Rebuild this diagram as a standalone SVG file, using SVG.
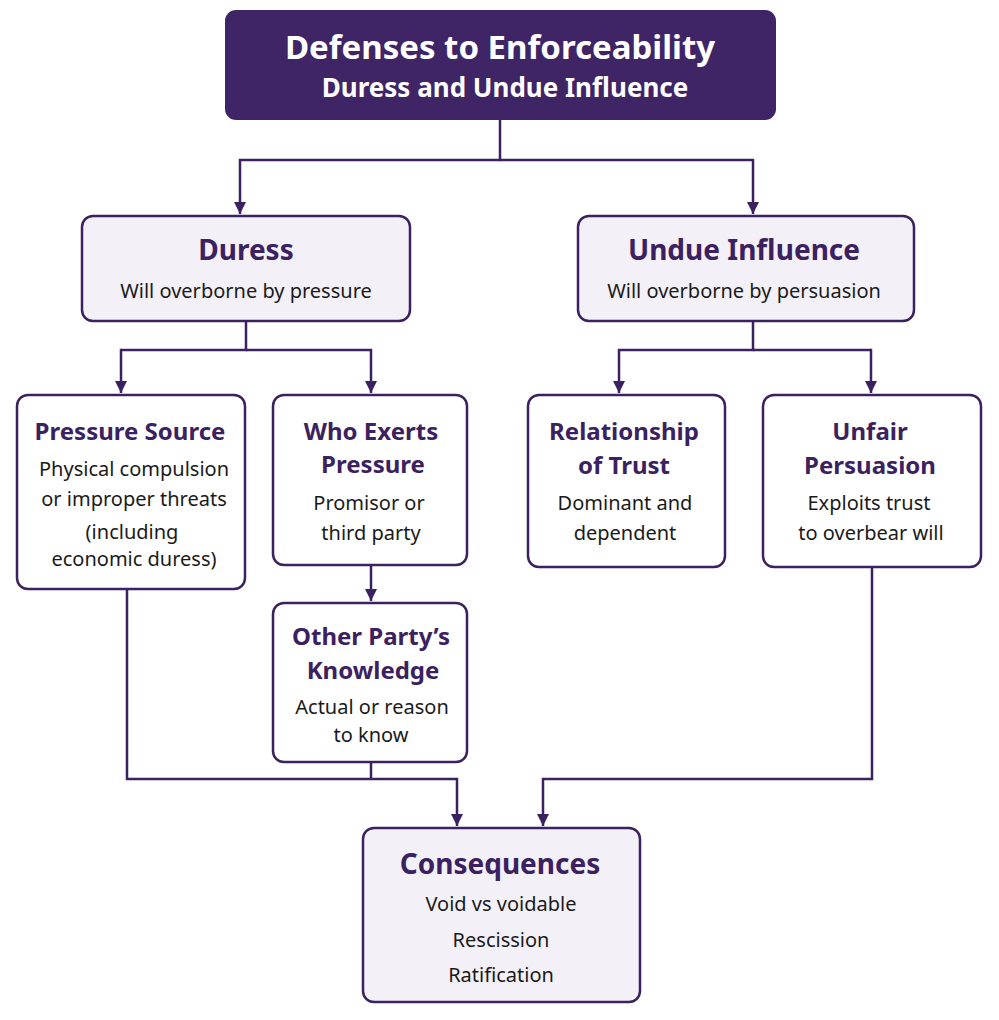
<svg xmlns="http://www.w3.org/2000/svg" width="999" height="1020" viewBox="0 0 999 1020">
<defs>
<marker id="ah" viewBox="0 0 10 10" refX="10" refY="5" markerWidth="5" markerHeight="5" markerUnits="strokeWidth" orient="auto"><path d="M0,0 L10,5 L0,10 z" fill="#3b2160"/></marker>
<style>
.box{stroke:#3b2160;stroke-width:2.5;fill:#fff}
.l2{fill:#f3f0f8}
.c{fill:none;stroke:#3b2160;stroke-width:2.5}
text{font-family:"Noto Sans","Open Sans",sans-serif;text-anchor:middle}
.h{font-weight:bold;fill:#3b2160;font-size:24px}
.hb{font-weight:bold;fill:#3b2160;font-size:28px}
.t{fill:#1a1a1a;font-size:20px}
</style>
</defs>
<rect width="999" height="1020" fill="#fff"/>
<g id="connectors">
<path class="c" d="M500,120 V160 H240 V214" marker-end="url(#ah)"/>
<path class="c" d="M500,160 H753 V214" marker-end="url(#ah)"/>
<path class="c" d="M246,321 V350 H121 V393" marker-end="url(#ah)"/>
<path class="c" d="M246,350 H371 V393" marker-end="url(#ah)"/>
<path class="c" d="M753,321 V350 H619 V393" marker-end="url(#ah)"/>
<path class="c" d="M753,350 H871 V393" marker-end="url(#ah)"/>
<path class="c" d="M371,565 V601" marker-end="url(#ah)"/>
<path class="c" d="M127,589 V779 H457 V826" marker-end="url(#ah)"/>
<path class="c" d="M371,762 V779"/>
<path class="c" d="M872,567 V779 H543 V826" marker-end="url(#ah)"/>
</g>
<g id="title">
<rect x="225" y="10" width="551" height="110" rx="11" fill="#3f2466"/>
<text x="500" y="59" font-size="33" font-weight="bold" fill="#fff">Defenses to Enforceability</text>
<text x="505" y="97" font-size="26" font-weight="bold" fill="#fff">Duress and Undue Influence</text>
</g>
<g id="duress">
<rect class="box l2" x="82" y="216" width="328" height="105" rx="11"/>
<text class="hb" x="246" y="260">Duress</text>
<text class="t" x="246" y="298">Will overborne by pressure</text>
</g>
<g id="undue">
<rect class="box l2" x="578" y="216" width="336" height="105" rx="11"/>
<text class="hb" x="744" y="260">Undue Influence</text>
<text class="t" x="744" y="298">Will overborne by persuasion</text>
</g>
<g id="pressure-source">
<rect class="box" x="17" y="395" width="228" height="194" rx="11"/>
<text class="h" x="130" y="440">Pressure Source</text>
<text class="t" x="134" y="476">Physical compulsion</text>
<text class="t" x="134" y="506">or improper threats</text>
<text class="t" x="132" y="539">(including</text>
<text class="t" x="134" y="566">economic duress)</text>
</g>
<g id="who-exerts">
<rect class="box" x="273" y="395" width="194" height="170" rx="11"/>
<text class="h" x="371" y="440">Who Exerts</text>
<text class="h" x="373" y="473">Pressure</text>
<text class="t" x="369" y="510">Promisor or</text>
<text class="t" x="371" y="540">third party</text>
</g>
<g id="other-party">
<rect class="box" x="273" y="603" width="194" height="159" rx="11"/>
<text class="h" x="371" y="645">Other Party’s</text>
<text class="h" x="373" y="679">Knowledge</text>
<text class="t" x="372" y="714">Actual or reason</text>
<text class="t" x="371" y="742">to know</text>
</g>
<g id="relationship">
<rect class="box" x="528" y="395" width="197" height="172" rx="11"/>
<text class="h" x="624" y="440">Relationship</text>
<text class="h" x="624" y="474">of Trust</text>
<text class="t" x="625" y="510">Dominant and</text>
<text class="t" x="625" y="540">dependent</text>
</g>
<g id="unfair">
<rect class="box" x="763" y="395" width="218" height="172" rx="11"/>
<text class="h" x="870" y="440">Unfair</text>
<text class="h" x="870" y="474">Persuasion</text>
<text class="t" x="869" y="510">Exploits trust</text>
<text class="t" x="871" y="540">to overbear will</text>
</g>
<g id="consequences">
<rect class="box l2" x="363" y="828" width="277" height="174" rx="11"/>
<text class="hb" x="500" y="874">Consequences</text>
<text class="t" x="501" y="911">Void vs voidable</text>
<text class="t" x="501" y="947">Rescission</text>
<text class="t" x="501" y="982">Ratification</text>
</g>
</svg>
